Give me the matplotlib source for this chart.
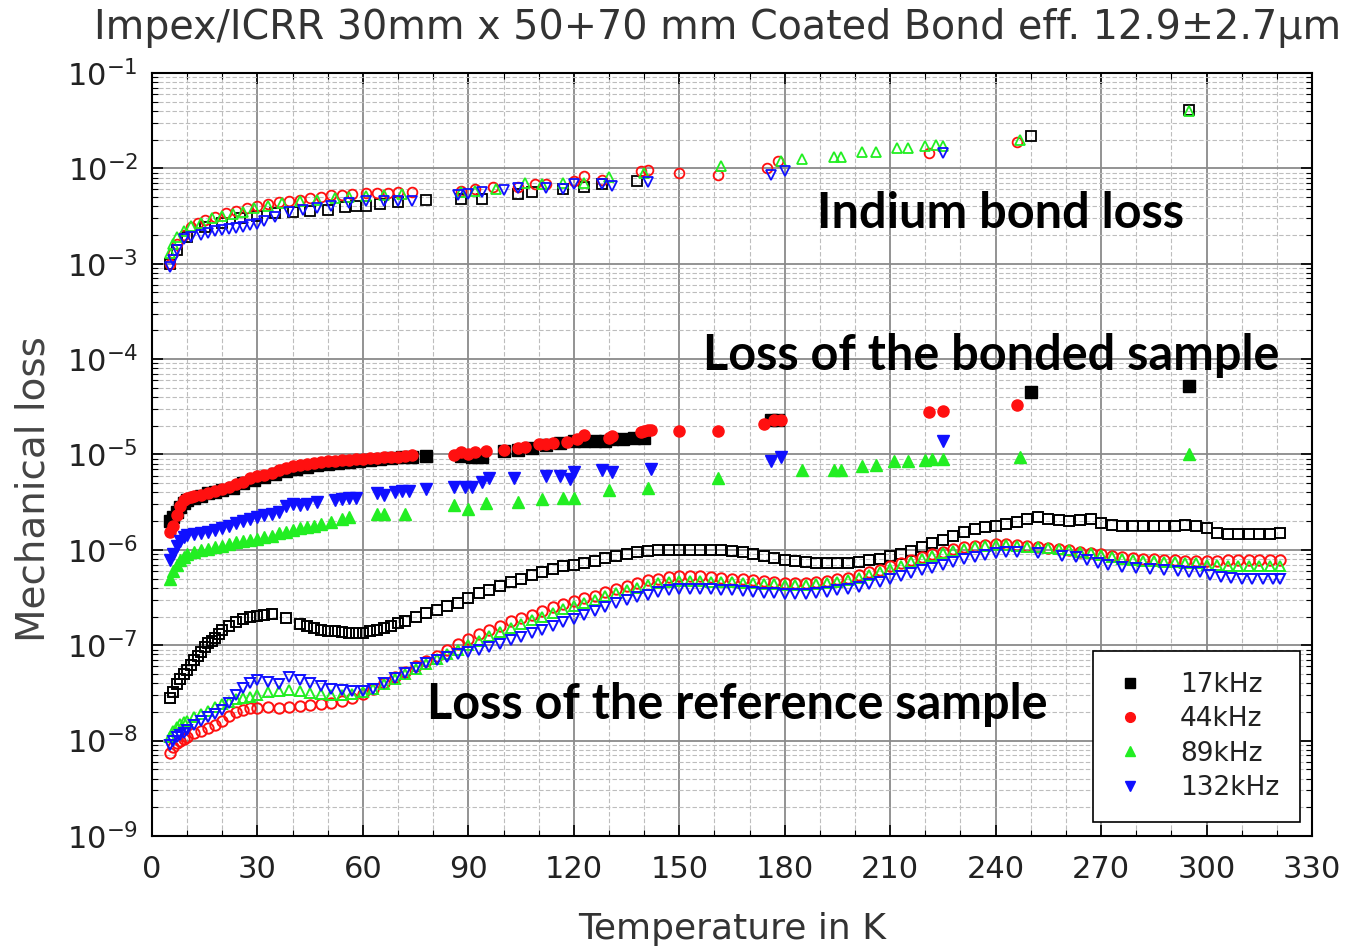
import numpy as np
import matplotlib
matplotlib.use('Agg')
import matplotlib.pyplot as plt
from matplotlib.ticker import LogLocator, MultipleLocator, NullFormatter

# frequencies / legend
labels = ['17kHz', '44kHz', '89kHz', '132kHz']
colors = ['black', '#ff1010', '#22ee22', '#1010ff']
markers = ['s', 'o', '^', 'v']

# ---------------- reference sample (open markers) ----------------
ref_t_17 = [5, 6, 7, 8, 9, 10, 11, 12, 13, 14, 15, 16, 17, 18, 19, 20, 22, 24, 26, 28, 30, 32, 34, 38,
            42, 44, 46, 48, 50, 52, 54, 56, 58, 60, 62, 64, 66, 68, 70, 72, 75, 78, 81, 84, 87, 90, 93,
            96, 99, 102, 105, 108, 111, 114, 117, 120, 123, 126, 129, 132, 135, 138, 141, 144, 147, 150,
            153, 156, 159, 162, 165, 168, 171, 174, 177, 180, 183, 186, 189, 192, 195, 198, 201, 204, 207,
            210, 213, 216, 219, 222, 225, 228, 231, 234, 237, 240, 243, 246, 249, 252, 255, 258, 261, 264,
            267, 270, 273, 276, 279, 282, 285, 288, 291, 294, 297, 300, 303, 306, 309, 312, 315, 318, 321]
ref_v_17 = [2.8e-8, 3.2e-8, 3.9e-8, 4.4e-8, 5.0e-8, 5.5e-8, 6.2e-8, 7.0e-8, 7.7e-8, 8.5e-8, 9.5e-8,
            1.05e-7, 1.1e-7, 1.2e-7, 1.3e-7, 1.45e-7, 1.6e-7, 1.75e-7, 1.9e-7, 2.0e-7, 2.05e-7, 2.1e-7,
            2.15e-7, 1.95e-7, 1.65e-7, 1.6e-7, 1.5e-7, 1.45e-7, 1.42e-7, 1.4e-7, 1.38e-7, 1.35e-7, 1.35e-7,
            1.35e-7, 1.4e-7, 1.45e-7, 1.5e-7, 1.6e-7, 1.7e-7, 1.8e-7, 2.0e-7, 2.2e-7, 2.35e-7, 2.55e-7,
            2.8e-7, 3.1e-7, 3.5e-7, 3.8e-7, 4.2e-7, 4.6e-7, 5.0e-7, 5.4e-7, 5.9e-7, 6.3e-7, 6.7e-7, 7.0e-7,
            7.3e-7, 7.6e-7, 8.2e-7, 8.7e-7, 9.0e-7, 9.4e-7, 9.7e-7, 9.9e-7, 1.0e-6, 1.0e-6, 1.0e-6, 1.0e-6,
            1.0e-6, 1.0e-6, 9.8e-7, 9.4e-7, 9.0e-7, 8.6e-7, 8.2e-7, 7.9e-7, 7.6e-7, 7.4e-7, 7.3e-7, 7.2e-7,
            7.2e-7, 7.3e-7, 7.5e-7, 7.8e-7, 8.1e-7, 8.6e-7, 9.1e-7, 9.8e-7, 1.07e-6, 1.17e-6, 1.27e-6,
            1.4e-6, 1.55e-6, 1.65e-6, 1.75e-6, 1.8e-6, 1.85e-6, 1.95e-6, 2.1e-6, 2.2e-6, 2.1e-6, 2.05e-6,
            2.0e-6, 2.05e-6, 2.1e-6, 1.9e-6, 1.82e-6, 1.8e-6, 1.78e-6, 1.8e-6, 1.78e-6, 1.8e-6, 1.78e-6,
            1.82e-6, 1.8e-6, 1.7e-6, 1.5e-6, 1.48e-6, 1.48e-6, 1.48e-6, 1.48e-6, 1.48e-6, 1.5e-6]

ref_t_44 = [5, 6, 7, 8, 9, 10, 12, 14, 16, 18, 20, 22, 24, 26, 28, 30, 33, 36, 39, 42, 45, 48, 51, 54,
            57, 60, 63, 66, 69, 72, 75, 78, 81, 84, 87, 90, 93, 96, 99, 102, 105, 108, 111, 114, 117, 120,
            123, 126, 129, 132, 135, 138, 141, 144, 147, 150, 153, 156, 159, 162, 165, 168, 171, 174, 177,
            180, 183, 186, 189, 192, 195, 198, 201, 204, 207, 210, 213, 216, 219, 222, 225, 228, 231, 234,
            237, 240, 243, 246, 249, 252, 255, 258, 261, 264, 267, 270, 273, 276, 279, 282, 285, 288, 291,
            294, 297, 300, 303, 306, 309, 312, 315, 318, 321]
ref_v_44 = [7.5e-9, 8.5e-9, 9.5e-9, 1.0e-8, 1.05e-8, 1.1e-8, 1.2e-8, 1.25e-8, 1.35e-8, 1.45e-8, 1.6e-8,
            1.8e-8, 2.0e-8, 2.1e-8, 2.2e-8, 2.2e-8, 2.25e-8, 2.2e-8, 2.25e-8, 2.3e-8, 2.35e-8, 2.4e-8,
            2.5e-8, 2.6e-8, 2.8e-8, 3.1e-8, 3.5e-8, 4.0e-8, 4.6e-8, 5.3e-8, 6.0e-8, 6.8e-8, 7.8e-8, 9.0e-8,
            1.02e-7, 1.15e-7, 1.3e-7, 1.45e-7, 1.6e-7, 1.8e-7, 1.95e-7, 2.1e-7, 2.3e-7, 2.5e-7, 2.7e-7,
            2.9e-7, 3.1e-7, 3.3e-7, 3.6e-7, 3.9e-7, 4.2e-7, 4.5e-7, 4.8e-7, 5.0e-7, 5.2e-7, 5.3e-7, 5.3e-7,
            5.3e-7, 5.2e-7, 5.1e-7, 5.0e-7, 4.9e-7, 4.8e-7, 4.7e-7, 4.6e-7, 4.5e-7, 4.5e-7, 4.5e-7, 4.6e-7,
            4.7e-7, 4.9e-7, 5.1e-7, 5.4e-7, 5.8e-7, 6.2e-7, 6.7e-7, 7.2e-7, 7.8e-7, 8.4e-7, 9.0e-7, 9.6e-7,
            1.02e-6, 1.07e-6, 1.1e-6, 1.13e-6, 1.15e-6, 1.15e-6, 1.12e-6, 1.1e-6, 1.07e-6, 1.05e-6, 1.02e-6,
            1.0e-6, 9.6e-7, 9.3e-7, 9.0e-7, 8.7e-7, 8.5e-7, 8.3e-7, 8.1e-7, 8.0e-7, 7.9e-7, 7.8e-7, 7.7e-7,
            7.6e-7, 7.6e-7, 7.7e-7, 7.8e-7, 7.8e-7, 7.8e-7, 7.8e-7, 7.8e-7, 7.8e-7]

ref_t_89 = ref_t_44
ref_v_89 = [1.1e-8, 1.25e-8, 1.4e-8, 1.5e-8, 1.55e-8, 1.6e-8, 1.75e-8, 1.9e-8, 2.05e-8, 2.25e-8, 2.4e-8,
            2.55e-8, 2.7e-8, 2.8e-8, 2.9e-8, 3.0e-8, 3.2e-8, 3.35e-8, 3.4e-8, 3.3e-8, 3.15e-8, 3.05e-8,
            3.0e-8, 3.0e-8, 3.05e-8, 3.2e-8, 3.5e-8, 3.9e-8, 4.4e-8, 5.0e-8, 5.6e-8, 6.3e-8, 7.1e-8, 8.0e-8,
            9.0e-8, 1.0e-7, 1.12e-7, 1.25e-7, 1.38e-7, 1.52e-7, 1.67e-7, 1.82e-7, 2.0e-7, 2.2e-7, 2.4e-7,
            2.6e-7, 2.8e-7, 3.0e-7, 3.25e-7, 3.5e-7, 3.75e-7, 4.0e-7, 4.25e-7, 4.45e-7, 4.6e-7, 4.7e-7,
            4.7e-7, 4.7e-7, 4.65e-7, 4.6e-7, 4.55e-7, 4.5e-7, 4.45e-7, 4.4e-7, 4.35e-7, 4.3e-7, 4.3e-7,
            4.3e-7, 4.35e-7, 4.45e-7, 4.6e-7, 4.8e-7, 5.1e-7, 5.5e-7, 5.9e-7, 6.3e-7, 6.8e-7, 7.4e-7,
            8.0e-7, 8.6e-7, 9.2e-7, 9.8e-7, 1.03e-6, 1.07e-6, 1.1e-6, 1.12e-6, 1.12e-6, 1.1e-6, 1.08e-6,
            1.06e-6, 1.04e-6, 1.02e-6, 1.0e-6, 9.6e-7, 9.2e-7, 8.8e-7, 8.4e-7, 8.1e-7, 7.9e-7, 7.7e-7,
            7.6e-7, 7.5e-7, 7.4e-7, 7.3e-7, 7.2e-7, 7.0e-7, 6.9e-7, 6.8e-7, 6.8e-7, 6.8e-7, 6.8e-7, 6.8e-7,
            6.8e-7]

ref_t_132 = [5, 6, 7, 8, 9, 10, 12, 14, 16, 18, 20, 22, 24, 26, 28, 30, 33, 36, 39, 42, 45, 48, 51, 54,
             57, 60, 63, 66, 69, 72, 75, 78, 81, 84, 87, 90, 93, 96, 99, 102, 105, 108, 111, 114, 117, 120,
             123, 126, 129, 132, 135, 138, 141, 144, 147, 150, 153, 156, 159, 162, 165, 168, 171, 174, 177,
             180, 183, 186, 189, 192, 195, 198, 201, 204, 207, 210, 213, 216, 219, 222, 225, 228, 231, 234,
             237, 240, 243, 246, 252, 259, 263, 266, 269, 272, 276, 280, 284, 288, 292, 295, 298, 301, 304,
             307, 310, 313, 316, 319, 321]
ref_v_132 = [9.0e-9, 1.0e-8, 1.1e-8, 1.15e-8, 1.2e-8, 1.3e-8, 1.45e-8, 1.6e-8, 1.75e-8, 1.9e-8, 2.1e-8,
             2.5e-8, 3.0e-8, 3.6e-8, 4.0e-8, 4.3e-8, 4.1e-8, 3.9e-8, 4.6e-8, 4.3e-8, 4.0e-8, 3.7e-8, 3.5e-8,
             3.4e-8, 3.3e-8, 3.3e-8, 3.5e-8, 4.0e-8, 4.5e-8, 5.1e-8, 5.8e-8, 6.5e-8, 7.0e-8, 7.5e-8, 8.0e-8,
             8.5e-8, 8.9e-8, 9.5e-8, 1.03e-7, 1.13e-7, 1.22e-7, 1.33e-7, 1.45e-7, 1.6e-7, 1.75e-7, 1.9e-7,
             2.1e-7, 2.3e-7, 2.5e-7, 2.75e-7, 3.0e-7, 3.2e-7, 3.4e-7, 3.6e-7, 3.75e-7, 3.85e-7, 3.9e-7,
             3.9e-7, 3.85e-7, 3.8e-7, 3.75e-7, 3.7e-7, 3.6e-7, 3.55e-7, 3.5e-7, 3.45e-7, 3.45e-7, 3.45e-7,
             3.5e-7, 3.6e-7, 3.75e-7, 3.9e-7, 4.1e-7, 4.35e-7, 4.6e-7, 4.9e-7, 5.3e-7, 5.7e-7, 6.1e-7,
             6.5e-7, 7.0e-7, 7.5e-7, 8.0e-7, 8.5e-7, 8.9e-7, 9.2e-7, 9.4e-7, 9.6e-7, 9.3e-7, 8.6e-7, 8.4e-7,
             7.8e-7, 7.3e-7, 7.0e-7, 6.6e-7, 6.4e-7, 6.3e-7, 6.1e-7, 6.0e-7, 5.9e-7, 5.8e-7, 5.5e-7, 5.2e-7,
             5.1e-7, 5.0e-7, 5.0e-7, 4.9e-7, 4.9e-7, 4.9e-7]

# ---------------- bonded sample (filled markers) ----------------
bond_t_17 = [5, 6, 7, 8, 9, 10, 12, 14, 16, 18, 20, 23, 26, 29, 32, 35, 38, 41, 44, 47, 50, 53, 56, 59,
             62, 65, 68, 71, 74, 78, 88, 91, 94, 100, 104, 108, 112, 116, 120, 123, 126, 129, 131, 134, 137,
             140, 176, 178, 250, 295]
bond_v_17 = [2.0e-6, 2.2e-6, 2.5e-6, 2.8e-6, 3.1e-6, 3.3e-6, 3.5e-6, 3.7e-6, 3.9e-6, 4.0e-6, 4.2e-6,
             4.5e-6, 5.0e-6, 5.4e-6, 5.8e-6, 6.3e-6, 6.7e-6, 7.1e-6, 7.4e-6, 7.7e-6, 7.9e-6, 8.1e-6, 8.3e-6,
             8.5e-6, 8.7e-6, 8.9e-6, 9.1e-6, 9.3e-6, 9.5e-6, 9.6e-6, 9.6e-6, 9.5e-6, 9.3e-6, 1.08e-5, 1.12e-5,
             1.17e-5, 1.25e-5, 1.32e-5, 1.37e-5, 1.4e-5, 1.4e-5, 1.4e-5, 1.45e-5, 1.45e-5, 1.5e-5, 1.5e-5,
             2.3e-5, 2.3e-5, 4.5e-5, 5.2e-5]

bond_t_44 = [5, 6, 7, 8, 9, 10, 11, 12, 14, 16, 18, 20, 22, 24, 26, 28, 30, 32, 34, 36, 38, 40, 42, 44,
             46, 48, 50, 52, 54, 56, 58, 60, 62, 64, 66, 68, 70, 72, 74, 86, 88, 90, 92, 95, 100, 104, 106,
             110, 112, 114, 118, 121, 123, 130, 131, 139, 140, 141, 142, 150, 161, 174, 177, 179, 221, 225, 246]
bond_v_44 = [1.55e-6, 1.8e-6, 2.3e-6, 2.9e-6, 3.3e-6, 3.5e-6, 3.6e-6, 3.7e-6, 3.8e-6, 3.95e-6, 4.1e-6,
             4.3e-6, 4.6e-6, 4.9e-6, 5.2e-6, 5.6e-6, 5.9e-6, 6.1e-6, 6.4e-6, 6.9e-6, 7.2e-6, 7.5e-6, 7.7e-6,
             7.9e-6, 8.1e-6, 8.3e-6, 8.5e-6, 8.6e-6, 8.7e-6, 8.8e-6, 8.9e-6, 9.0e-6, 9.1e-6, 9.2e-6, 9.3e-6,
             9.4e-6, 9.5e-6, 9.7e-6, 9.8e-6, 9.8e-6, 1.07e-5, 1.0e-5, 1.05e-5, 1.1e-5, 1.12e-5, 1.17e-5,
             1.2e-5, 1.3e-5, 1.3e-5, 1.32e-5, 1.36e-5, 1.45e-5, 1.6e-5, 1.5e-5, 1.55e-5, 1.7e-5, 1.75e-5,
             1.8e-5, 1.8e-5, 1.78e-5, 1.75e-5, 2.1e-5, 2.3e-5, 2.3e-5, 2.8e-5, 2.85e-5, 3.3e-5]

bond_t_89 = [5, 6, 7, 8, 9, 10, 12, 14, 16, 18, 20, 22, 24, 26, 28, 30, 32, 34, 36, 38, 40, 42, 44, 46,
             48, 51, 54, 56, 64, 66, 72, 86, 90, 95, 104, 111, 117, 120, 130, 141, 161, 185, 194, 196, 202,
             206, 211, 215, 220, 222, 225, 247, 295]
bond_v_89 = [4.9e-7, 6.0e-7, 7.0e-7, 7.8e-7, 8.5e-7, 9.0e-7, 9.6e-7, 1.0e-6, 1.03e-6, 1.07e-6, 1.1e-6,
             1.15e-6, 1.2e-6, 1.23e-6, 1.26e-6, 1.3e-6, 1.35e-6, 1.4e-6, 1.5e-6, 1.55e-6, 1.6e-6, 1.7e-6,
             1.75e-6, 1.8e-6, 1.85e-6, 1.95e-6, 2.1e-6, 2.2e-6, 2.35e-6, 2.4e-6, 2.4e-6, 2.95e-6, 2.7e-6,
             3.1e-6, 3.2e-6, 3.4e-6, 3.5e-6, 3.5e-6, 4.2e-6, 4.4e-6, 5.6e-6, 6.8e-6, 6.8e-6, 6.8e-6, 7.5e-6,
             7.7e-6, 8.6e-6, 8.6e-6, 8.8e-6, 8.9e-6, 8.9e-6, 9.5e-6, 1.0e-5]

bond_t_132 = [5, 6, 7, 8, 9, 10, 12, 14, 16, 18, 20, 22, 24, 26, 28, 30, 32, 34, 36, 38, 40, 42, 44, 47,
              52, 54, 56, 58, 64, 66, 69, 71, 73, 78, 86, 89, 91, 94, 96, 103, 112, 116, 119, 120, 128, 131,
              142, 176, 179, 225]
bond_v_132 = [7.9e-7, 9.0e-7, 1.1e-6, 1.25e-6, 1.38e-6, 1.42e-6, 1.48e-6, 1.5e-6, 1.55e-6, 1.6e-6, 1.7e-6,
              1.8e-6, 1.9e-6, 2.0e-6, 2.1e-6, 2.2e-6, 2.3e-6, 2.4e-6, 2.5e-6, 2.9e-6, 3.0e-6, 2.95e-6,
              3.0e-6, 3.2e-6, 3.35e-6, 3.4e-6, 3.5e-6, 3.5e-6, 3.9e-6, 3.8e-6, 4.0e-6, 4.1e-6, 4.1e-6,
              4.3e-6, 4.6e-6, 4.6e-6, 4.6e-6, 5.2e-6, 5.6e-6, 5.6e-6, 5.9e-6, 5.9e-6, 5.5e-6, 6.5e-6, 6.8e-6,
              6.5e-6, 7.0e-6, 8.5e-6, 9.3e-6, 1.4e-5]

# ---------------- indium bond loss (open markers) ----------------
ind_t_17 = [5, 7, 10, 15, 20, 25, 30, 35, 40, 45, 50, 55, 58, 61, 65, 70, 78, 88, 94, 104, 108, 117, 123,
            128, 138, 250, 295]
ind_v_17 = [1.0e-3, 1.4e-3, 1.9e-3, 2.4e-3, 2.7e-3, 3.0e-3, 3.2e-3, 3.4e-3, 3.5e-3, 3.6e-3, 3.7e-3,
            3.9e-3, 4.0e-3, 4.0e-3, 4.2e-3, 4.4e-3, 4.7e-3, 4.8e-3, 4.8e-3, 5.4e-3, 5.7e-3, 6.0e-3, 6.4e-3,
            6.8e-3, 7.4e-3, 2.2e-2, 4.1e-2]

ind_t_44 = [5, 6, 7, 9, 11, 13, 15, 18, 21, 24, 27, 30, 33, 36, 39, 42, 45, 48, 51, 54, 57, 61, 64, 67,
            70, 74, 88, 92, 97, 104, 109, 112, 120, 123, 128, 139, 141, 150, 161, 175, 178, 221, 246]
ind_v_44 = [1.0e-3, 1.3e-3, 1.6e-3, 2.0e-3, 2.4e-3, 2.7e-3, 2.9e-3, 3.1e-3, 3.4e-3, 3.6e-3, 3.8e-3,
            4.0e-3, 4.2e-3, 4.4e-3, 4.6e-3, 4.7e-3, 4.9e-3, 5.0e-3, 5.2e-3, 5.3e-3, 5.4e-3, 5.5e-3, 5.5e-3,
            5.5e-3, 5.6e-3, 5.6e-3, 5.8e-3, 6.0e-3, 6.3e-3, 6.4e-3, 6.8e-3, 6.8e-3, 7.3e-3, 8.3e-3, 7.5e-3,
            9.3e-3, 9.5e-3, 8.9e-3, 8.5e-3, 1.0e-2, 1.2e-2, 1.45e-2, 1.9e-2]

ind_t_89 = [5, 6, 7, 9, 11, 14, 17, 20, 23, 26, 29, 33, 37, 42, 47, 52, 56, 61, 66, 71, 88, 92, 98, 106,
            111, 117, 123, 130, 140, 162, 179, 185, 194, 196, 202, 206, 212, 215, 220, 223, 225, 247, 295]
ind_v_89 = [1.3e-3, 1.6e-3, 1.9e-3, 2.2e-3, 2.5e-3, 2.7e-3, 3.0e-3, 3.2e-3, 3.3e-3, 3.5e-3, 3.8e-3,
            4.0e-3, 4.3e-3, 4.5e-3, 4.7e-3, 4.9e-3, 5.0e-3, 5.1e-3, 5.3e-3, 5.4e-3, 5.6e-3, 5.8e-3, 6.0e-3,
            7.0e-3, 6.9e-3, 7.0e-3, 7.0e-3, 8.2e-3, 9.0e-3, 1.05e-2, 1.2e-2, 1.25e-2, 1.3e-2, 1.3e-2,
            1.47e-2, 1.5e-2, 1.62e-2, 1.62e-2, 1.7e-2, 1.75e-2, 1.7e-2, 2.0e-2, 4.0e-2]

ind_t_132 = [5, 6, 7, 9, 11, 14, 16, 18, 20, 22, 24, 26, 28, 30, 32, 35, 39, 43, 47, 51, 56, 61, 66, 70,
             74, 87, 90, 94, 100, 104, 112, 117, 120, 128, 131, 141, 176, 180, 225]
ind_v_132 = [9.3e-4, 1.1e-3, 1.4e-3, 1.8e-3, 1.9e-3, 2.0e-3, 2.1e-3, 2.2e-3, 2.25e-3, 2.3e-3, 2.35e-3,
             2.45e-3, 2.55e-3, 2.6e-3, 2.8e-3, 3.1e-3, 3.5e-3, 3.7e-3, 3.8e-3, 4.0e-3, 4.3e-3, 4.5e-3,
             4.6e-3, 4.6e-3, 4.6e-3, 5.2e-3, 5.4e-3, 5.6e-3, 5.9e-3, 6.2e-3, 6.2e-3, 6.0e-3, 6.9e-3, 6.8e-3,
             6.6e-3, 7.2e-3, 8.5e-3, 9.3e-3, 1.45e-2]

ref_t = [ref_t_17, ref_t_44, ref_t_89, ref_t_132]
ref_v = [ref_v_17, ref_v_44, ref_v_89, ref_v_132]
bond_t = [bond_t_17, bond_t_44, bond_t_89, bond_t_132]
bond_v = [bond_v_17, bond_v_44, bond_v_89, bond_v_132]
ind_t = [ind_t_17, ind_t_44, ind_t_89, ind_t_132]
ind_v = [ind_v_17, ind_v_44, ind_v_89, ind_v_132]

fig = plt.figure(figsize=(13.62, 9.5), dpi=100)
ax = fig.add_axes([0.1116, 0.12, 0.8517, 0.8032])

ref_ms = [7, 7.5, 7.5, 7.5]
for i in range(4):
    ax.plot(ref_t[i], ref_v[i], linestyle='none', marker=markers[i], ms=ref_ms[i], mfc='none',
            mec=colors[i], mew=1.4, zorder=3)
for i in range(4):
    ax.plot(ind_t[i], ind_v[i], linestyle='none', marker=markers[i], ms=7, mfc='none',
            mec=colors[i], mew=1.3, zorder=3)
for i in range(4):
    ax.plot(bond_t[i], bond_v[i], linestyle='none', marker=markers[i], ms=8, mfc=colors[i],
            mec=colors[i], zorder=4)

ax.set_yscale('log')
ax.set_xlim(0, 330)
ax.set_ylim(1e-9, 1e-1)
ax.xaxis.set_major_locator(MultipleLocator(30))
ax.xaxis.set_minor_locator(MultipleLocator(10))
ax.yaxis.set_minor_locator(LogLocator(base=10, subs=np.arange(2, 10), numticks=20))
ax.yaxis.set_minor_formatter(NullFormatter())
ax.set_yticks([10.0 ** e for e in range(-9, 0)])
ax.set_yticklabels([r'$10^{%d}$' % e for e in range(-9, 0)])

ax.grid(which='major', color='#8a8a8a', linestyle='-', linewidth=1.3, zorder=0)
ax.grid(which='minor', color='#bdbdbd', linestyle=(0, (4, 2)), linewidth=0.8, zorder=0)
ax.set_axisbelow(True)
ax.tick_params(which='both', direction='in', top=True, right=True, colors='black')
ax.tick_params(which='major', length=8, width=1.2, labelsize=22, labelcolor='#222222')
ax.tick_params(axis='x', which='major', pad=14)
ax.tick_params(axis='y', which='major', pad=10)
ax.tick_params(which='minor', length=4, width=0.8)
for s in ax.spines.values():
    s.set_linewidth(1.5)

ax.set_xlabel('Temperature in K', fontsize=26, color='#333333', labelpad=20)
ax.set_ylabel('Mechanical loss', fontsize=28, color='#444444', family='Liberation Sans Narrow')
ax.yaxis.set_label_coords(-0.086, 0.455)
fig.text(0.5266, 0.9705, 'Impex/ICRR 30mm x 50+70 mm Coated Bond eff. 12.9\u00b12.7\u03bcm',
         ha='center', va='center', fontsize=28.5, color='#333333')

ax.text(241.5, 3.4e-3, 'Indium bond loss', ha='center', va='center', fontsize=35,
        fontweight='bold', family='Lato', zorder=6)
ax.text(238.7, 1.1e-4, 'Loss of the bonded sample', ha='center', va='center', fontsize=35,
        fontweight='bold', family='Lato', zorder=6)
ax.text(166.4, 2.37e-8, 'Loss of the reference sample', ha='center', va='center', fontsize=35,
        fontweight='bold', family='Lato', zorder=6)

handles = [plt.Line2D([], [], linestyle='none', marker=markers[i], ms=7, color=colors[i])
           for i in range(4)]
leg = ax.legend(handles, labels, loc='lower right', bbox_to_anchor=(0.99, 0.018), fontsize=19,
                frameon=True, fancybox=False, edgecolor='black', framealpha=1, handlelength=1.2,
                handletextpad=1.3, labelspacing=0.32, borderpad=0.8, borderaxespad=0)
leg.get_frame().set_linewidth(1.2)
for t in leg.get_texts():
    t.set_color('#222222')
leg.set_zorder(10)

fig.savefig('out.png', dpi=100)
